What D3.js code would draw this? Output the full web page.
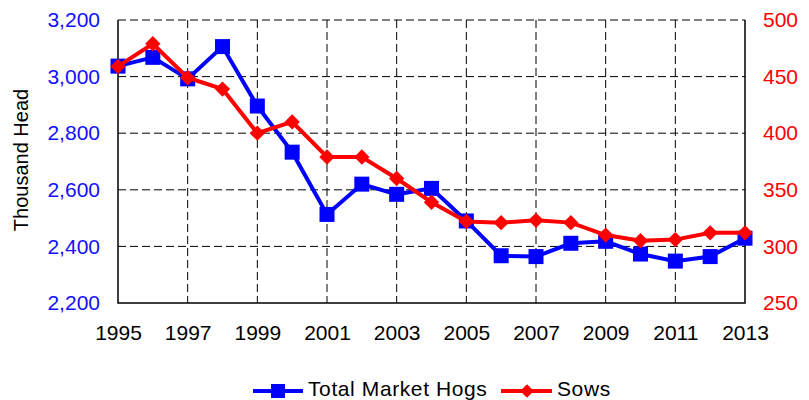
<!DOCTYPE html>
<html>
<head>
<meta charset="utf-8">
<script src="https://cdn.jsdelivr.net/npm/d3@7"></script>
<style>
  body { margin: 0; background: #fff; }
  text { font-family: "Liberation Sans", Arial, sans-serif; }
</style>
</head>
<body>
<div id="chart"></div>
<script>
const WIDTH = 809;
const HEIGHT = 400;

// data
const years = [1995, 1996, 1997, 1998, 1999, 2000, 2001, 2002, 2003, 2004,
               2005, 2006, 2007, 2008, 2009, 2010, 2011, 2012, 2013];
const marketHogs = [3037, 3068, 2992, 3106, 2896, 2733, 2513, 2620, 2584, 2605,
                    2490, 2367, 2364, 2411, 2418, 2373, 2348, 2364, 2429];
const sows = [459, 479, 449, 439, 400, 410, 379, 379, 360, 339,
              322, 321, 323, 321, 310, 305, 306, 312, 312];
const leftTicks = [2200, 2400, 2600, 2800, 3000, 3200];
const rightTicks = [250, 300, 350, 400, 450, 500];
const xTicks = [1995, 1997, 1999, 2001, 2003, 2005, 2007, 2009, 2011, 2013];

const margin = {top: 20, right: 64, bottom: 97, left: 118};
const plotW = WIDTH - margin.left - margin.right;
const plotH = HEIGHT - margin.top - margin.bottom;

const svg = d3.select("#chart").append("svg")
    .attr("width", WIDTH)
    .attr("height", HEIGHT);

const g = svg.append("g").attr("transform", `translate(${margin.left},${margin.top})`);

const x = d3.scaleLinear().domain([1995, 2013]).range([0, plotW]);
const yL = d3.scaleLinear().domain([2200, 3200]).range([plotH, 0]);
const yR = d3.scaleLinear().domain([250, 500]).range([plotH, 0]);

// grid
g.append("g").selectAll("line").data(leftTicks.slice(1))
    .enter().append("line")
    .attr("x1", 0).attr("x2", plotW)
    .attr("y1", d => yL(d)).attr("y2", d => yL(d))
    .attr("stroke", "#000").attr("stroke-width", 1)
    .attr("stroke-dasharray", "8,4");

g.append("g").selectAll("line").data(xTicks.slice(1, -1))
    .enter().append("line")
    .attr("x1", d => x(d)).attr("x2", d => x(d))
    .attr("y1", 0).attr("y2", plotH)
    .attr("stroke", "#000").attr("stroke-width", 1)
    .attr("stroke-dasharray", "8,4");

// frame (left, bottom, right)
g.append("path")
    .attr("d", `M0,0V${plotH}H${plotW}V0`)
    .attr("fill", "none")
    .attr("stroke", "#000")
    .attr("stroke-width", 1.5);

// axes
const axL = g.append("g").call(d3.axisLeft(yL).tickValues(leftTicks).tickFormat(d3.format(",")).tickSize(0).tickPadding(18));
axL.select(".domain").remove();
axL.selectAll("text").attr("fill", "#1010ff").style("font-size", "21px");

const axR = g.append("g").attr("transform", `translate(${plotW},0)`)
    .call(d3.axisRight(yR).tickValues(rightTicks).tickSize(0).tickPadding(18));
axR.select(".domain").remove();
axR.selectAll("text").attr("fill", "#ff0000").style("font-size", "21px");

const axB = g.append("g").attr("transform", `translate(0,${plotH})`)
    .call(d3.axisBottom(x).tickValues(xTicks).tickFormat(d3.format("d")).tickSize(0).tickPadding(22));
axB.select(".domain").remove();
axB.selectAll("text").attr("fill", "#000").style("font-size", "21px");

svg.append("text")
    .attr("transform", `translate(28,160) rotate(-90)`)
    .attr("text-anchor", "middle")
    .style("font-size", "20px")
    .attr("fill", "#000")
    .text("Thousand Head");

// series
const hogLine = d3.line().x((d, i) => x(years[i])).y(d => yL(d));
const sowLine = d3.line().x((d, i) => x(years[i])).y(d => yR(d));

g.append("path").datum(marketHogs)
    .attr("d", hogLine)
    .attr("fill", "none").attr("stroke", "#0000ff").attr("stroke-width", 4);

g.append("g").selectAll("rect").data(marketHogs)
    .enter().append("rect")
    .attr("x", (d, i) => x(years[i]) - 7.5)
    .attr("y", d => yL(d) - 7.5)
    .attr("width", 15).attr("height", 15)
    .attr("fill", "#0000ff");

const diamond = d3.symbol().type(d3.symbolDiamond2).size(150);

g.append("path").datum(sows)
    .attr("d", sowLine)
    .attr("fill", "none").attr("stroke", "#ff0000").attr("stroke-width", 4);

g.append("g").selectAll("path").data(sows)
    .enter().append("path")
    .attr("d", diamond)
    .attr("transform", (d, i) => `translate(${x(years[i])},${yR(d)})`)
    .attr("fill", "#ff0000");

// legend
const legend = svg.append("g").attr("transform", "translate(0,391)");
legend.append("line").attr("x1", 253).attr("x2", 303).attr("y1", 0).attr("y2", 0)
    .attr("stroke", "#0000ff").attr("stroke-width", 4);
legend.append("rect").attr("x", 271).attr("y", -7).attr("width", 14).attr("height", 14)
    .attr("fill", "#0000ff");
legend.append("text").attr("x", 308).attr("y", 5).style("font-size", "21px")
    .style("letter-spacing", "0.6px")
    .attr("fill", "#000").text("Total Market Hogs");

legend.append("line").attr("x1", 501).attr("x2", 552).attr("y1", 0).attr("y2", 0)
    .attr("stroke", "#ff0000").attr("stroke-width", 4);
legend.append("path").attr("d", d3.symbol().type(d3.symbolDiamond2).size(120))
    .attr("transform", "translate(527,0)").attr("fill", "#ff0000");
legend.append("text").attr("x", 557).attr("y", 5).style("font-size", "21px")
    .style("letter-spacing", "0.6px")
    .attr("fill", "#000").text("Sows");
</script>
</body>
</html>
